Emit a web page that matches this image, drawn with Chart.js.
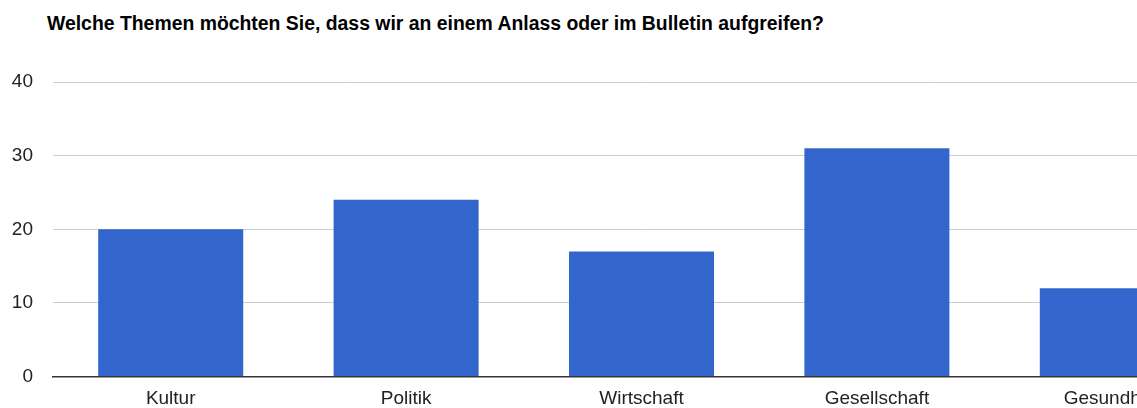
<!DOCTYPE html>
<html>
<head>
<meta charset="utf-8">
<script src="https://cdn.jsdelivr.net/npm/chart.js@4.4.0/dist/chart.umd.min.js"></script>
<style>
  html, body { margin: 0; padding: 0; background: #fff; overflow: hidden; width: 1137px; height: 408px; }
  #title { position: absolute; left: 47px; top: 12px; font: bold 19.4px "Liberation Sans", Arial, sans-serif; color: #000; white-space: nowrap; }
  #wrap { position: absolute; left: 0; top: 0; width: 1240px; height: 408px; }
</style>
</head>
<body>
<div id="title">Welche Themen möchten Sie, dass wir an einem Anlass oder im Bulletin aufgreifen?</div>
<div id="wrap"><canvas id="c" width="1240" height="408"></canvas></div>
<script>
const categories = ["Kultur", "Politik", "Wirtschaft", "Gesellschaft", "Gesundheit"];
const responses = [20, 24, 17, 31, 12];
const yTicks = [0, 10, 20, 30, 40];

const FONT = '"Liberation Sans", Arial, sans-serif';

new Chart(document.getElementById('c'), {
  type: 'bar',
  data: {
    labels: categories,
    datasets: [{
      data: responses,
      backgroundColor: '#3366cc',
      borderWidth: 0,
      barPercentage: 0.616,
      categoryPercentage: 1.0
    }]
  },
  options: {
    responsive: false,
    animation: false,
    devicePixelRatio: 1,
    layout: { padding: { top: 82, right: 10, left: 0, bottom: 0 } },
    plugins: { legend: { display: false }, tooltip: { enabled: false }, title: { display: false } },
    scales: {
      x: {
        grid: { display: false, drawTicks: false },
        border: { display: true, color: '#333333', width: 1.5 },
        ticks: { font: { family: FONT, size: 19 }, color: '#222222', padding: 11, maxRotation: 0, autoSkip: false },
        afterFit: (s) => { s.height = 29; }
      },
      y: {
        min: 0, max: 40,
        afterBuildTicks: (s) => { s.ticks = yTicks.map(v => ({ value: v })); },
        grid: { color: (ctx) => ctx.tick && ctx.tick.value === 0 ? 'rgba(0,0,0,0)' : '#cccccc', lineWidth: 1, drawTicks: false },
        border: { display: false },
        ticks: { font: { family: FONT, size: 19 }, color: '#222222', padding: 20 },
        afterFit: (s) => { s.width = 53; }
      }
    }
  }
});
</script>
</body>
</html>
